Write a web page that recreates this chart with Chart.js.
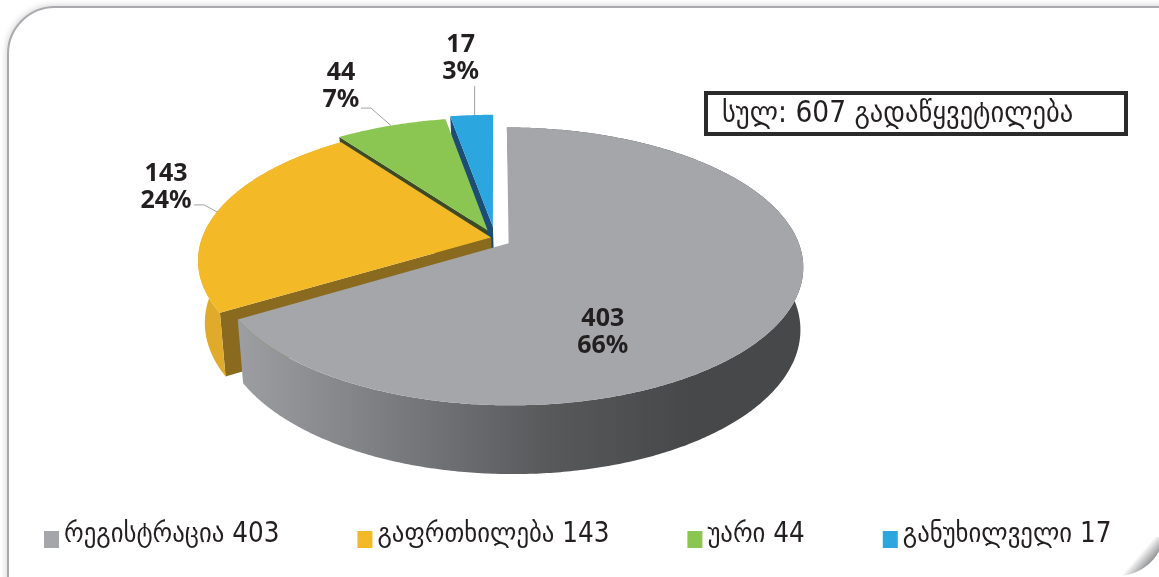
<!DOCTYPE html>
<html>
<head>
<meta charset="utf-8">
<style>
  html, body { margin: 0; padding: 0; background: #fff; overflow: hidden; }
  #frame {
    position: absolute; left: 7px; top: 6px; width: 1200px; height: 620px;
    border: 2px solid #a9aaae; border-radius: 48px 0 0 0;
    box-shadow: -1px -1px 6px rgba(0,0,0,.16);
    background: #fff;
  }
  #corner {
    position: absolute; right: 0; bottom: 0; width: 60px; height: 40px;
    background:
      radial-gradient(circle at 18px -9px, transparent 47.5px, #fff 48.5px),
      linear-gradient(131deg, #fff 42px, #8f9092 56px);
  }
  #pie { position: absolute; left: 0; top: 0; }
</style>
</head>
<body>
<div id="frame"></div>
<div id="corner"></div>
<canvas id="pie" width="1159" height="577"></canvas>
<script src="https://cdn.jsdelivr.net/npm/chart.js@4/dist/chart.umd.js"></script>
<script>
const categories = ['რეგისტრაცია', 'გაფრთხილება', 'უარი', 'განუხილველი'];
const values = [403, 143, 44, 17];
const totalLabel = ['სულ:', 'გადაწყვეტილება'];

const topColors = ['#a5a6aa', '#f3b927', '#8cc652', '#2ba6de'];
const sideColors = [null, '#e0aa2b', null, null];
const wallColors = [null, '#8a6a1f', '#3d4a24', '#1b4d75'];
const explode = [0.05, 0.0175, 0.065, 0.085];
const nudge = [[0, 0], [0, -2], [-1, -1.5], [-1, -2]];

const labelFont = 'bold 25px "Noto Sans", "DejaVu Sans", sans-serif';
const legendFont = 'condensed 27.5px "DejaVu Sans", sans-serif';
const totalFont = 'condensed 29.5px "DejaVu Sans", sans-serif';

// per slice: label centre and leader line, relative to the slice's outer mid point
const labelPos = [[-182, 17], [-51, -25], [-50, -39], [-11, -56.5]];
const leaders = [
  null,
  [[0, 0], [-13, -7], [-23, -7]],
  [[0, 0], [-20, -17.5], [-30, -17.5]],
  [[3, 0], [3, -29]]
];

// the tilted disc, as two planes seen in perspective
const topPlane = { rx: 289, ry: 134, k: 0.1655, dx: 0, dy: 0 };
const bottomPlane = { rx: 284, ry: 139.8, k: 0.173, dx: 2, dy: 60 };

function project(plane, arc, u, v, i) {
  const d = 1 - plane.k * v;
  return {
    x: arc.x + plane.dx + nudge[i][0] + plane.rx * u / d,
    y: arc.y + plane.dy + nudge[i][1] + plane.ry * v / d
  };
}

function rimPoint(plane, arc, angle, r, i) {
  const mid = (arc.startAngle + arc.endAngle) / 2;
  const shift = explode[i];
  const u = shift * Math.cos(mid) + r * Math.cos(angle);
  const v = shift * Math.sin(mid) + r * Math.sin(angle);
  return project(plane, arc, u, v, i);
}

function rimPath(plane, arc, i) {
  const pts = [];
  const steps = Math.ceil((arc.endAngle - arc.startAngle) / 0.01);
  for (let s = 0; s <= steps; s++) {
    pts.push(rimPoint(plane, arc, arc.startAngle + (arc.endAngle - arc.startAngle) * s / steps, 1, i));
  }
  return pts;
}

function fillPoly(ctx, pts, fill) {
  ctx.beginPath();
  pts.forEach((p, i) => i ? ctx.lineTo(p.x, p.y) : ctx.moveTo(p.x, p.y));
  ctx.closePath();
  ctx.fillStyle = fill;
  ctx.fill();
}

const pie3d = {
  id: 'pie3d',
  beforeDatasetDraw(chart) {
    const ctx = chart.ctx;
    const arcs = chart.getDatasetMeta(0).data;
    ctx.save();
    // back to front
    [3, 2, 1, 0].forEach(i => {
      const arc = arcs[i];
      const top = rimPath(topPlane, arc, i);
      const bottom = rimPath(bottomPlane, arc, i);
      const apexTop = rimPoint(topPlane, arc, arc.startAngle, 0, i);
      const apexBottom = rimPoint(bottomPlane, arc, arc.startAngle, 0, i);
      // wall on the leading edge of the slice
      if (wallColors[i]) fillPoly(ctx, [apexTop, top[0], bottom[0], apexBottom], wallColors[i]);
      // outer wall, only the two front slices show one
      let side = sideColors[i];
      if (i === 0) {
        side = ctx.createLinearGradient(240, 0, 800, 0);
        side.addColorStop(0, '#9d9ea2');
        side.addColorStop(0.3, '#77787b');
        side.addColorStop(0.55, '#58595b');
        side.addColorStop(0.8, '#47484a');
        side.addColorStop(1, '#47484a');
      }
      if (side) fillPoly(ctx, top.concat(bottom.slice().reverse()), side);
      fillPoly(ctx, [apexTop].concat(top), topColors[i]);
    });
    ctx.restore();
    return false;
  },
  afterDraw(chart) {
    const ctx = chart.ctx;
    const arcs = chart.getDatasetMeta(0).data;
    const total = values.reduce((a, b) => a + b, 0);
    ctx.save();
    ctx.textBaseline = 'middle';

    // slice labels and leader lines
    arcs.forEach((arc, i) => {
      const mid = (arc.startAngle + arc.endAngle) / 2;
      const p = rimPoint(topPlane, arc, mid, 1, i);
      if (leaders[i]) {
        ctx.beginPath();
        leaders[i].forEach((o, n) => n ? ctx.lineTo(p.x + o[0], p.y + o[1]) : ctx.moveTo(p.x + o[0], p.y + o[1]));
        ctx.strokeStyle = '#a0a1a5';
        ctx.lineWidth = 1;
        ctx.stroke();
      }
      const cx = p.x + labelPos[i][0];
      const cy = p.y + labelPos[i][1];
      ctx.font = labelFont;
      ctx.fillStyle = '#231f20';
      ctx.textAlign = 'center';
      ctx.fillText(String(values[i]), cx, cy - 13.5);
      ctx.fillText(Math.round(values[i] / total * 100) + '%', cx, cy + 13.5);
    });

    // legend, one run of box + text with an even gap
    ctx.textAlign = 'left';
    ctx.font = legendFont;
    let x = 44;
    categories.forEach((name, i) => {
      const text = name + ' ' + values[i];
      ctx.fillStyle = topColors[i];
      ctx.fillRect(x, 531, 15, 17);
      ctx.fillStyle = '#231f20';
      ctx.fillText(text, x + 20, 535);
      x += 20 + ctx.measureText(text).width + 78;
    });

    // total box
    ctx.strokeStyle = '#2b2b2b';
    ctx.lineWidth = 4;
    ctx.strokeRect(706, 93, 420, 41);
    ctx.font = totalFont;
    ctx.fillStyle = '#231f20';
    ctx.fillText(totalLabel[0] + ' ' + total + ' ' + totalLabel[1], 722, 114);
    ctx.restore();
  }
};

new Chart(document.getElementById('pie'), {
  type: 'pie',
  data: {
    labels: categories,
    datasets: [{ data: values, backgroundColor: topColors }]
  },
  options: {
    responsive: false,
    animation: false,
    layout: { padding: { right: 167, bottom: 97 } },
    datasets: { pie: { borderWidth: 0 } },
    plugins: { legend: { display: false }, tooltip: { enabled: false } }
  },
  plugins: [pie3d]
});
</script>
</body>
</html>
